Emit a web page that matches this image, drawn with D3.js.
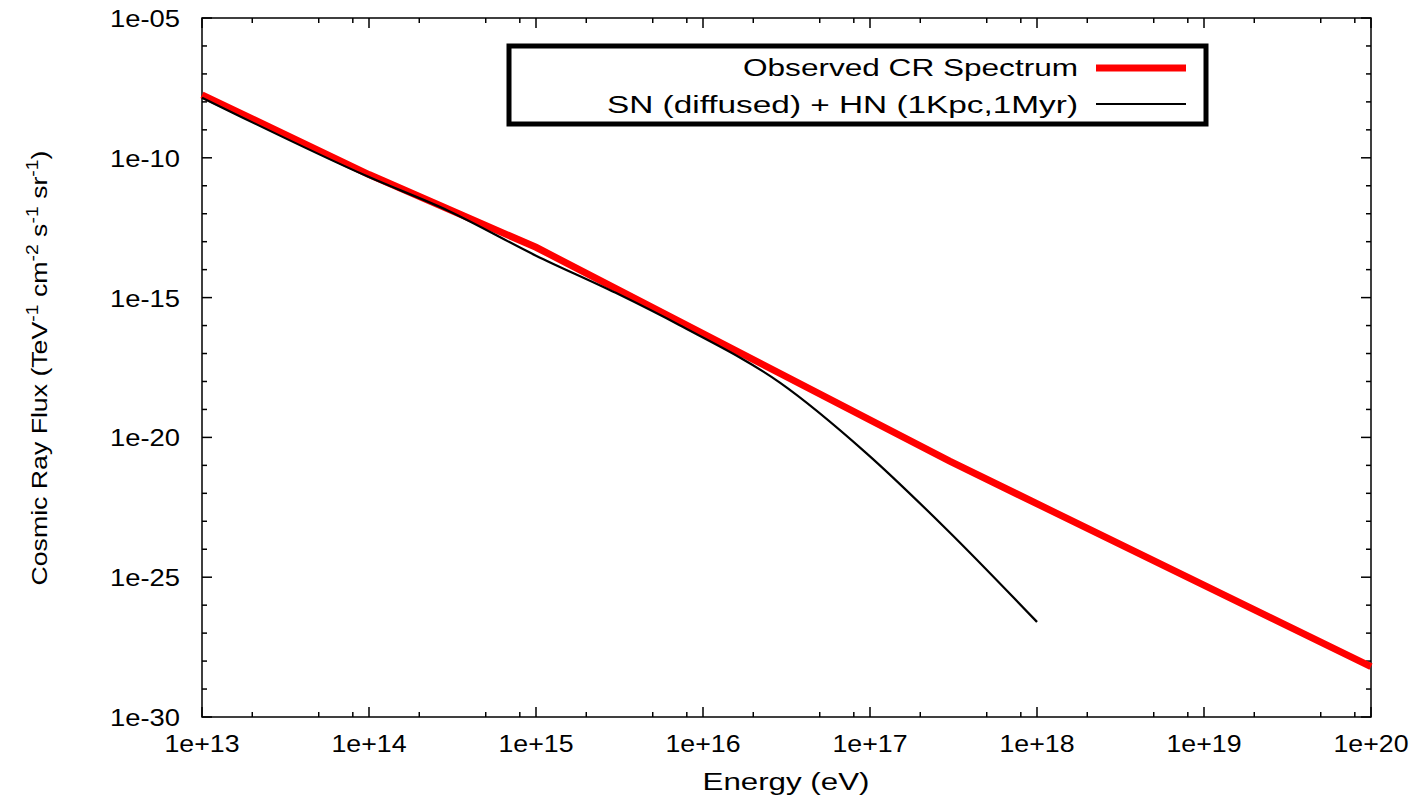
<!DOCTYPE html><html><head><script src="https://cdn.jsdelivr.net/npm/d3@7"></script>
<style>body{margin:0;background:#fff}text{font-family:"Liberation Sans",Arial,sans-serif}</style></head><body>
<svg id="c" width="1428" height="801"></svg>
<script>
const xTicks=[1e13,1e14,1e15,1e16,1e17,1e18,1e19,1e20];
const yTicks=[1e-5,1e-10,1e-15,1e-20,1e-25,1e-30];
const obsE=[1e13,1e14,1e15,3e17,1e20];
const obsLog=[-7.75,-10.6,-13.2,-20.85,-28.2];
const snE=[1e13,1e14,3e14,1e15,3e15,7.2e15,2.9e16,9.5e16,2.9e17,1e18];
const snLog=[-7.85,-10.69,-11.9,-13.5,-14.83,-15.98,-18.05,-20.56,-23.31,-26.6];
const svg=d3.select("#c");
const L=202,R=1371,T=18,B=717;
const x=d3.scaleLog().domain([1e13,1e20]).range([L,R]);
const y=d3.scaleLinear().domain([-30,-5]).range([B,T]);
const yl=v=>y(Math.log10(v));
const g=svg.append("g");
const tk=(x1,y1,x2,y2)=>g.append("line").attr("x1",x1).attr("x2",x2).attr("y1",y1).attr("y2",y2).attr("stroke","#000").attr("stroke-width",1.5);
const txt=(x0,y0,s,anchor,len)=>g.append("text").attr("x",x0).attr("y",y0).attr("text-anchor",anchor).attr("font-size",23).attr("textLength",len).attr("lengthAdjust","spacingAndGlyphs").text(s);
xTicks.forEach((t,i)=>{
  tk(x(t),B,x(t),B-10);tk(x(t),T,x(t),T+10);
  if(i<xTicks.length-1)[2,5,8].forEach(m=>{tk(x(t*m),B,x(t*m),B-5);tk(x(t*m),T,x(t*m),T+5);});
  txt(x(t),752,"1e+"+Math.round(Math.log10(t)),"middle",75);
});
for(let e=-29;e<=-6;e++){ if(e%5){tk(L,y(e),L+5,y(e));tk(R,y(e),R-5,y(e));} }
yTicks.forEach(t=>{
  tk(L,yl(t),L+10,yl(t));tk(R,yl(t),R-10,yl(t));
  const e=Math.round(Math.log10(t));
  txt(L-22,yl(t)+9,"1e-"+String(-e).padStart(2,"0"),"end",70);
});
g.append("rect").attr("x",L).attr("y",T).attr("width",R-L).attr("height",B-T).attr("fill","none").attr("stroke","#000").attr("stroke-width",1.5);
const line=d3.line().x(d=>x(d[0])).y(d=>y(d[1]));
g.append("path").attr("d",line(obsE.map((e,i)=>[e,obsLog[i]]))).attr("fill","none").attr("stroke","#f00").attr("stroke-width",7);
g.append("path").attr("d",d3.line().curve(d3.curveMonotoneX).x(d=>x(d[0])).y(d=>y(d[1]))(snE.map((e,i)=>[e,snLog[i]]))).attr("fill","none").attr("stroke","#000").attr("stroke-width",2.2);
g.append("rect").attr("x",509).attr("y",46).attr("width",697).attr("height",78).attr("fill","#fff").attr("stroke","#000").attr("stroke-width",5);
txt(1078,76,"Observed CR Spectrum","end",335);
g.append("line").attr("x1",1096).attr("x2",1186).attr("y1",68).attr("y2",68).attr("stroke","#f00").attr("stroke-width",7);
txt(1078,113,"SN (diffused) + HN (1Kpc,1Myr)","end",471);
g.append("line").attr("x1",1096).attr("x2",1186).attr("y1",104).attr("y2",104).attr("stroke","#000").attr("stroke-width",2.2);
txt(786,790,"Energy (eV)","middle",167);
const yt=g.append("text").attr("transform","translate(47,368) rotate(-90)").attr("text-anchor","middle").attr("font-size",22);
[["Cosmic Ray Flux (TeV",0],["-1",1],[" cm",0],["-2",1],[" s",0],["-1",1],[" sr",0],["-1",1],[")",0]].forEach(([s,sup],i)=>{
  yt.append("tspan").attr("dy",i==0?0:(sup?-9:9)).attr("font-size",sup?16:22).text(s);
});
yt.attr("textLength",435).attr("lengthAdjust","spacingAndGlyphs");
</script></body></html>
